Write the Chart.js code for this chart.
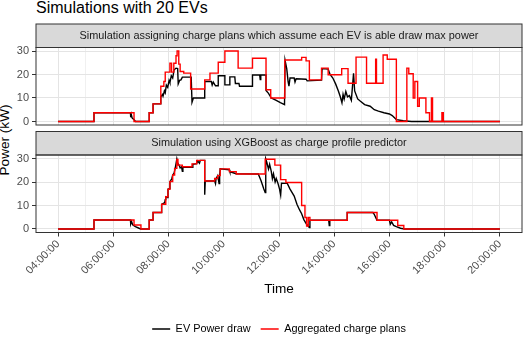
<!DOCTYPE html>
<html>
<head>
<meta charset="utf-8">
<script src="https://cdn.jsdelivr.net/npm/chart.js@4.4.1/dist/chart.umd.min.js"></script>
<style>
  body { margin: 0; background: #fff; }
  #wrap { position: relative; width: 525px; height: 347px; overflow: hidden; font-family: "Liberation Sans", Arial, sans-serif; }
  canvas { position: absolute; left: 0; top: 0; }
  #title { position: absolute; left: 36px; top: 0; font-size: 16px; line-height: 16px; color: #000; white-space: nowrap; }
  #ylab { position: absolute; left: 4.8px; top: 140px; font-size: 13.6px; line-height: 13.6px; color: #000;
          transform: translate(-50%, -50%) rotate(-90deg); white-space: nowrap; }
</style>
</head>
<body>
<div id="wrap">
  <div id="title">Simulations with 20 EVs</div>
  <div id="ylab">Power (kW)</div>
  <canvas id="panelTop" width="525" height="347"></canvas>
  <canvas id="panelBottom" width="525" height="347"></canvas>
</div>
<script>
// [hour of day, kW]
// charge plans assuming max power per EV
const planA = [[4.00, 0], [5.30, 3.7], [6.75, 0], [7.30, 3.7], [7.44, 7.5], [7.72, 15], [7.83, 17], [7.88, 21],
  [8.05, 24.8], [8.11, 21], [8.19, 24.8], [8.27, 28], [8.31, 30], [8.37, 24.4], [8.42, 21.3], [8.55, 20.6],
  [8.80, 13.8], [9.31, 17.7], [9.50, 20.6], [9.80, 25.2], [10.04, 30], [10.52, 22.7], [11.04, 26.9],
  [11.53, 13.5], [11.70, 10], [12.21, 26.2], [12.82, 27.3], [12.98, 25.8], [13.10, 17.7], [13.54, 22.7],
  [13.78, 19.9], [14.27, 22.5], [14.50, 16.3], [14.79, 27.4], [15.17, 16.3], [15.50, 26.5], [15.53, 16.3],
  [15.77, 28.3], [15.92, 26.5], [16.25, 0], [16.63, 22.7], [16.70, 20.3], [16.86, 10], [16.92, 17],
  [17.02, 6.5], [17.08, 10], [17.32, 3.7], [17.45, 0], [17.52, 10], [17.56, 0], [17.90, 3.7], [17.95, 0],
  [20.00, 0]];
const drawA = [[4.00, 0], [5.30, 0], [5.30, 3.7], [6.62, 3.7], [6.63, 1.8], [6.65, 3.0], [6.68, 1.5], [6.75, 0.8],
  [6.80, 0], [7.30, 0], [7.30, 3.7], [7.44, 3.7], [7.44, 7.5], [7.72, 7.5], [7.72, 10.5], [7.78, 11.5],
  [7.80, 10.8], [7.85, 13], [7.88, 12.2], [7.92, 15.5], [7.97, 14.5], [8.02, 17.5], [8.05, 16.5], [8.10, 19.5],
  [8.15, 18.5], [8.20, 22], [8.27, 22.7], [8.33, 22.5], [8.35, 16], [8.40, 17.5], [8.45, 17.7], [8.50, 18.9],
  [8.82, 18.9], [8.85, 8.2], [8.90, 10], [9.31, 10], [9.31, 17], [9.55, 17], [9.58, 15.5], [9.62, 16.8],
  [9.70, 15.2], [9.80, 15.2], [9.80, 19.5], [10.04, 19.5], [10.04, 15.6], [10.20, 15.6], [10.22, 19],
  [10.40, 19], [10.42, 16.2], [10.55, 16.2], [10.57, 15], [11.04, 15], [11.04, 19.8], [11.30, 19.8],
  [11.32, 17.8], [11.34, 19.8], [11.53, 19.8], [11.53, 13.2], [11.62, 12], [11.72, 10], [11.90, 9],
  [12.05, 8], [12.20, 7.2], [12.22, 26], [12.28, 22.5], [12.33, 17], [12.36, 15], [12.40, 18.5], [12.55, 18.5],
  [12.58, 16.8], [12.62, 18.2], [12.98, 18], [13.02, 17.3], [13.54, 17.6], [13.56, 22.5], [13.78, 22.3],
  [13.85, 20], [13.95, 18.5], [14.05, 16], [14.15, 13], [14.22, 10.5], [14.28, 8], [14.32, 11.5], [14.36, 9.5],
  [14.42, 12.8], [14.48, 10.5], [14.55, 11], [14.62, 9], [14.70, 20.5], [14.74, 13], [14.85, 9.6], [14.95, 8.6],
  [15.10, 7.2], [15.30, 6.5], [15.45, 5], [15.60, 4.4], [15.80, 3.7], [16.00, 3.2], [16.10, 2.5], [16.25, 0.8],
  [16.50, 0.3], [16.80, 0], [20.00, 0]];

// XGBoost predicted profiles
const planB = [[4.00, 0], [5.30, 3.8], [6.75, 1.7], [7.00, 0], [7.30, 3.8], [7.44, 7], [7.75, 10.5], [7.90, 13.7],
  [7.98, 16.9], [8.05, 20.2], [8.15, 23], [8.22, 25.8], [8.30, 29.6], [8.34, 27.2], [8.50, 26.5], [8.85, 27.7],
  [9.02, 29.2], [9.31, 20.4], [9.67, 21.5], [9.78, 22.7], [9.87, 25.6], [10.20, 24.4], [10.45, 23.4],
  [11.50, 29.7], [11.85, 27.2], [12.06, 21], [12.25, 19.8], [12.82, 10], [12.94, 4.9], [13.00, 1.2],
  [13.06, 4.9], [13.12, 3.7], [14.47, 7], [15.55, 3.7], [16.30, 1.5], [16.52, 0], [20.00, 0]];
const drawB = [[4.00, 0], [5.30, 0], [5.30, 3.8], [6.62, 3.8], [6.63, 2.2], [6.66, 3.2], [6.70, 1.8], [6.80, 1.0],
  [6.95, 0.2], [7.00, 0], [7.30, 0], [7.30, 3.8], [7.44, 3.8], [7.44, 7], [7.75, 7], [7.75, 10.5], [7.86, 11.2],
  [7.88, 12.5], [7.90, 13.7], [7.95, 13.4], [7.98, 16.9], [8.03, 17.2], [8.05, 20], [8.12, 21.5], [8.15, 23],
  [8.20, 23.8], [8.24, 25.8], [8.30, 29.8], [8.33, 28], [8.38, 27.2], [8.42, 26], [8.47, 26.4], [8.50, 24.6],
  [8.52, 26.3], [8.85, 26.3], [8.88, 27.5], [9.02, 27.8], [9.05, 29], [9.12, 28], [9.15, 29.2], [9.31, 29.2],
  [9.31, 14.6], [9.33, 20.4], [9.67, 20.4], [9.70, 19.3], [9.72, 21.4], [9.78, 22.7], [9.83, 19.3], [9.85, 22.5],
  [9.87, 25.6], [10.20, 25.2], [10.22, 24.4], [10.45, 23.5], [11.25, 23.4], [11.35, 20.5], [11.45, 17],
  [11.50, 15.5], [11.52, 29.8], [11.56, 28.3], [11.62, 25.5], [11.66, 27.5], [11.72, 24.5], [11.76, 21.5],
  [11.80, 23.5], [11.86, 20], [11.90, 21.5], [11.96, 19.5], [12.02, 17], [12.06, 14.5], [12.09, 19.5],
  [12.30, 19.4], [12.40, 17], [12.55, 14], [12.65, 10.5], [12.75, 8], [12.82, 6.5], [12.90, 4], [13.00, 2],
  [13.10, 0.6], [13.12, 3.7], [13.80, 3.7], [13.82, 1.5], [13.84, 3.7], [14.47, 3.7], [14.47, 7], [15.40, 7],
  [15.45, 6.2], [15.55, 3.7], [16.00, 3.7], [16.03, 2], [16.08, 3], [16.15, 1.5], [16.25, 1], [16.40, 0.3],
  [16.55, 0], [20.00, 0]];

const hourTicks = [4, 6, 8, 10, 12, 14, 16, 18, 20];
const hourLabels = ['04:00:00', '06:00:00', '08:00:00', '10:00:00', '12:00:00', '14:00:00', '16:00:00', '18:00:00', '20:00:00'];
const powerTicks = [0, 10, 20, 30];

const FONT = '"Liberation Sans", Arial, sans-serif';
const STRIP_H = 23.5;

// major breaks plus a minor break halfway between each pair
function withMinor(major) {
  const out = [];
  major.forEach((v, i) => {
    if (i > 0) out.push((major[i - 1] + v) / 2);
    out.push(v);
  });
  return out;
}
const hourGrid = withMinor(hourTicks);
const powerGrid = withMinor(powerTicks);

const toXY = pts => pts.map(p => ({ x: p[0], y: p[1] }));

// grey facet strip above the panel and the dark panel outline
const facetStrip = {
  id: 'facetStrip',
  afterDraw(chart, args, opts) {
    const { ctx, chartArea: a } = chart;
    const w = a.right - a.left;
    ctx.save();
    ctx.fillStyle = '#d9d9d9';
    ctx.fillRect(a.left, a.top - STRIP_H, w, STRIP_H);
    ctx.strokeStyle = '#333333';
    ctx.lineWidth = 1;
    ctx.strokeRect(a.left, a.top - STRIP_H, w, STRIP_H);
    ctx.strokeRect(a.left, a.top, w, a.bottom - a.top);
    ctx.fillStyle = '#1a1a1a';
    ctx.font = '10.9px ' + FONT;
    ctx.textAlign = 'center';
    ctx.textBaseline = 'middle';
    ctx.fillText(opts.text, (a.left + a.right) / 2, a.top - STRIP_H / 2);
    ctx.restore();
  }
};

function makePanel(canvasId, stripText, plan, draw, bottom) {
  const isMajorHour = v => hourTicks.includes(v);
  const isMajorPower = v => powerTicks.includes(v);
  return new Chart(document.getElementById(canvasId), {
    type: 'line',
    data: {
      datasets: [
        {
          label: 'Aggregated charge plans',
          data: toXY(plan),
          borderColor: '#ff0000',
          backgroundColor: '#ff0000',
          borderWidth: 1.4,
          stepped: true,
          pointRadius: 0
        },
        {
          label: 'EV Power draw',
          data: toXY(draw),
          borderColor: '#000000',
          backgroundColor: '#000000',
          borderWidth: 1.4,
          tension: 0,
          pointRadius: 0
        }
      ]
    },
    options: {
      responsive: false,
      animation: false,
      devicePixelRatio: 1,
      events: [],
      layout: {
        padding: bottom
          ? { top: 155, bottom: 2.6, left: 0, right: 3 }
          : { top: 47.5, bottom: 222, left: 0, right: 3 }
      },
      scales: {
        x: {
          type: 'linear',
          min: 3.2,
          max: 20.8,
          afterBuildTicks: s => { s.ticks = hourGrid.map(v => ({ value: v })); },
          afterFit: s => {
            s.height = bottom ? 81 : 0;
            s.paddingLeft = 0;
            s.paddingRight = 0;
          },
          border: { display: false },
          grid: {
            color: c => isMajorHour(c.tick.value) ? '#e4e4e4' : '#f0f0f0',
            lineWidth: 1,
            drawTicks: bottom,
            tickLength: 4,
            tickColor: c => isMajorHour(c.tick.value) ? '#333333' : 'rgba(0,0,0,0)'
          },
          ticks: {
            display: bottom,
            autoSkip: false,
            minRotation: 45,
            maxRotation: 45,
            padding: 1,
            color: '#4d4d4d',
            font: { family: FONT, size: 11 },
            callback: v => isMajorHour(v) ? hourLabels[hourTicks.indexOf(v)] : ''
          },
          title: {
            display: bottom,
            text: 'Time',
            color: '#000000',
            font: { family: FONT, size: 13.6 },
            padding: { top: 0, bottom: 16.3 }
          }
        },
        y: {
          min: -1.5,
          max: 31.5,
          afterBuildTicks: s => { s.ticks = powerGrid.map(v => ({ value: v })); },
          afterFit: s => {
            s.width = 36;
            s.paddingTop = 0;
            s.paddingBottom = 0;
          },
          border: { display: false },
          grid: {
            color: c => isMajorPower(c.tick.value) ? '#e4e4e4' : '#f0f0f0',
            lineWidth: 1,
            tickLength: 4,
            tickColor: c => isMajorPower(c.tick.value) ? '#333333' : 'rgba(0,0,0,0)'
          },
          ticks: {
            padding: 3,
            color: '#4d4d4d',
            font: { family: FONT, size: 11 },
            callback: v => isMajorPower(v) ? String(v) : ''
          }
        }
      },
      plugins: {
        tooltip: { enabled: false },
        facetStrip: { text: stripText },
        legend: {
          display: bottom,
          position: 'bottom',
          fullSize: false,
          reverse: true,
          labels: {
            usePointStyle: true,
            pointStyle: 'line',
            pointStyleWidth: 18,
            padding: 10,
            color: '#000000',
            font: { family: FONT, size: 10.9 }
          }
        }
      }
    },
    plugins: [facetStrip]
  });
}

makePanel('panelTop', 'Simulation assigning charge plans which assume each EV is able draw max power', planA, drawA, false);
makePanel('panelBottom', 'Simulation using XGBoost as charge profile predictor', planB, drawB, true);
</script>
</body>
</html>
